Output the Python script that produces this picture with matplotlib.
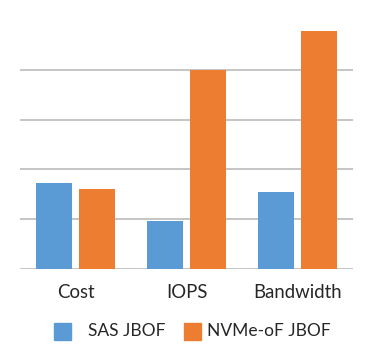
import matplotlib
matplotlib.use('Agg')
import matplotlib.pyplot as plt
from matplotlib.patches import Rectangle

categories = ['Cost', 'IOPS', 'Bandwidth']
sas_jbof = [1.73, 0.965, 1.55]
nvmeof_jbof = [1.61, 4.0, 4.78]
series_names = ['SAS JBOF', 'NVMe-oF JBOF']

blue = '#5B9BD5'
orange = '#ED7D31'
grid_col = '#C0C0C0'
text_col = '#262626'

plt.rcParams['font.family'] = ['Lato', 'DejaVu Sans']

W, H = 382, 362
fig = plt.figure(figsize=(W / 100, H / 100), dpi=100)
ax = fig.add_axes([20 / W, 1 - 269 / H, 333 / W, 249 / H])

x = list(range(len(categories)))
w = 0.324
off = 0.198
ax.bar([i - off for i in x], sas_jbof, w, color=blue, zorder=3)
ax.bar([i + off for i in x], nvmeof_jbof, w, color=orange, zorder=3)

ax.set_xlim(-0.5, 2.5)
ax.set_ylim(0, 5)
ax.set_yticks([0, 1, 2, 3, 4])
ax.set_yticklabels([])
ax.grid(axis='y', color=grid_col, linewidth=1.3, zorder=0)
ax.tick_params(axis='y', length=0)
ax.tick_params(axis='x', length=0, pad=11, labelsize=13.4, labelcolor=text_col)
ax.set_xticks(x)
ax.set_xticklabels(categories)
for s in ax.spines.values():
    s.set_visible(False)

# legend drawn by hand (square, label) to match spacing
leg_y = 331
sq = 17
for name, col, sx, tx in [(series_names[0], blue, 54, 88),
                          (series_names[1], orange, 184, 207)]:
    fig.patches.append(Rectangle((sx / W, 1 - (leg_y + sq / 2) / H), sq / W, sq / H,
                                 transform=fig.transFigure, color=col))
    fig.text(tx / W, 1 - leg_y / H, name, ha='left', va='center',
             fontsize=12.5, color=text_col)

fig.savefig('out.png', dpi=100)
